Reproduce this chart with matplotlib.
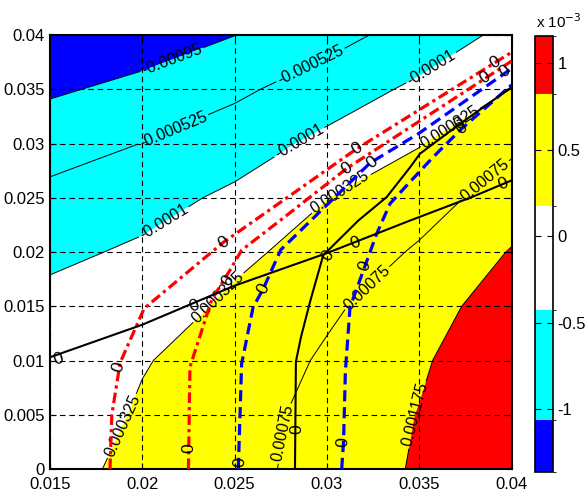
import numpy as np
import matplotlib
matplotlib.use("Agg")
import matplotlib.pyplot as plt
from matplotlib.colors import ListedColormap, BoundaryNorm
import matplotlib.colorbar as mcolorbar

plt.rcParams['font.family'] = ['Liberation Sans', 'DejaVu Sans']

# ---- field on a coarse grid (x 1e-3) ----
x_grid = [0.015, 0.02, 0.025, 0.03, 0.035, 0.04]
y_grid = [0.0, 0.005, 0.01, 0.015, 0.02, 0.025, 0.03, 0.035, 0.04]
z_rows = [
    [0.20, 0.42, 0.62, 0.90, 1.224, 1.55],
    [0.15, 0.358, 0.60, 0.87, 1.19, 1.52],
    [0.09, 0.308, 0.45, 0.816, 1.12, 1.50],
    [0.03, 0.12, 0.40, 0.672, 1.026, 1.35],
    [-0.195, -0.033, 0.24, 0.476, 0.80, 1.20],
    [-0.421, -0.253, -0.02, 0.319, 0.569, 0.947],
    [-0.691, -0.52, -0.294, 0.0, 0.305, 0.673],
    [-1.007, -0.842, -0.607, -0.314, -0.02, 0.33],
    [-1.36, -1.16, -0.955, -0.678, -0.345, 0.008],
]
levels = [-0.00095, -0.000525, -0.0001, 0.000325, 0.00075, 0.001175]
# colour below the first level, between levels, above the last level
fill_colors = ['#0000ff', '#00ffff', '#00ffff', '#ffffff', '#ffff00', '#ffff00', '#ff0000']

# colorbar (units of 1e-3)
cbar_bounds = [-1.362, -1.064, -0.423, 0.175, 0.821, 1.157]
cbar_colors = ['#0000ff', '#00ffff', '#ffffff', '#ffff00', '#ff0000']
cbar_ticks = [-1, -0.5, 0, 0.5, 1]

# ---- zero lines drawn on top ----
red_a = [(0.01825, 0.0), (0.01835, 0.005), (0.0188, 0.0098), (0.0201, 0.0148),
         (0.0239, 0.0202), (0.0244, 0.0209), (0.0316, 0.0295), (0.0399, 0.0383), (0.04, 0.0384)]
red_b = [(0.0225, 0.0), (0.02258, 0.0094), (0.02376, 0.0156), (0.02475, 0.01833),
         (0.02538, 0.02017), (0.02746, 0.0229), (0.03107, 0.0277), (0.03866, 0.0361), (0.04, 0.0376)]
blue_c = [(0.0252, 0.0), (0.02538, 0.0097), (0.0260, 0.0149), (0.02656, 0.01664),
          (0.0275, 0.0202), (0.03233, 0.0282), (0.03495, 0.0309), (0.03974, 0.0366), (0.04, 0.0369)]
blue_d = [(0.0308, 0.0), (0.0309, 0.0025), (0.0310, 0.009), (0.03125, 0.0149), (0.03206, 0.0187),
          (0.0327, 0.0217), (0.03342, 0.02446), (0.0345, 0.02646), (0.03576, 0.02876),
          (0.0373, 0.03137), (0.04, 0.0354)]
black_e = [(0.015, 0.0103), (0.02, 0.0133), (0.025, 0.0169), (0.03, 0.0199),
           (0.0345, 0.0229), (0.0379, 0.0251), (0.04, 0.0266)]
black_f = [(0.02827, 0.0), (0.02832, 0.0099), (0.0286, 0.0122), (0.0291, 0.0155),
           (0.0298, 0.0197), (0.0317, 0.0229), (0.03324, 0.02507), (0.0345, 0.0278),
           (0.03504, 0.02906), (0.0372, 0.0318), (0.04, 0.0352)]

# where the "0" labels sit on each line
red_a_labels = [(0.0187, 0.0094), (0.0244, 0.0209), (0.0316, 0.0295), (0.0391, 0.0375)]
red_b_labels = [(0.0225, 0.0019), (0.02466, 0.0174), (0.03107, 0.0277), (0.03857, 0.0361)]
blue_c_labels = [(0.0253, 0.0006), (0.02656, 0.01664), (0.03243, 0.0283), (0.03965, 0.0366)]
blue_d_labels = [(0.0309, 0.0025), (0.03206, 0.0187), (0.0373, 0.0314)]
black_e_labels = [(0.01545, 0.0101), (0.0228, 0.0150), (0.03152, 0.0208), (0.03955, 0.0263)]
black_f_labels = [(0.02836, 0.0037), (0.03008, 0.0197), (0.0372, 0.0318)]

# spots for the contour level labels
clabel_spots = [(0.02168, 0.0374), (0.02168, 0.03128), (0.0292, 0.0369),
                (0.02105, 0.02308), (0.02845, 0.0303), (0.03571, 0.0368),
                (0.0188, 0.00405), (0.02416, 0.01572), (0.03099, 0.02468), (0.03638, 0.0323),
                (0.02768, 0.00329), (0.0322, 0.01664), (0.03857, 0.0266),
                (0.03486, 0.00497)]


def label_angle(ax, pts, p):
    """Screen angle of the polyline near point p."""
    pts = np.asarray(pts)
    d = np.hypot(pts[:, 0] - p[0], (pts[:, 1] - p[1]))
    i = int(np.argmin(d))
    i0, i1 = max(i - 1, 0), min(i + 1, len(pts) - 1)
    a = ax.transData.transform(pts[i0])
    b = ax.transData.transform(pts[i1])
    ang = np.degrees(np.arctan2(b[1] - a[1], b[0] - a[0]))
    if ang > 90:
        ang -= 180
    if ang < -90:
        ang += 180
    return ang


fig = plt.figure(figsize=(5.88, 4.96), dpi=100)
ax = fig.add_axes([0.085, 0.0544, 0.785, 0.875])

X, Y = np.meshgrid(x_grid, y_grid)
Z = np.array(z_rows) * 1e-3

ax.contourf(X, Y, Z, levels=levels, colors=fill_colors, extend='both', antialiased=True)
cs = ax.contour(X, Y, Z, levels=levels, colors='k', linewidths=0.7,
                negative_linestyles='solid')

ax.set_xlim(0.015, 0.04)
ax.set_ylim(0, 0.04)
ax.set_xticks([0.015, 0.02, 0.025, 0.03, 0.035, 0.04])
ax.set_xticklabels(['0.015', '0.02', '0.025', '0.03', '0.035', '0.04'])
ax.set_yticks([0, 0.005, 0.01, 0.015, 0.02, 0.025, 0.03, 0.035, 0.04])
ax.set_yticklabels(['0', '0.005', '0.01', '0.015', '0.02', '0.025', '0.03', '0.035', '0.04'])
ax.tick_params(direction='in', length=4, labelsize=12, top=True, right=True)
ax.tick_params(axis='x', pad=6)
ax.set_axisbelow(False)
ax.grid(True, color='k', linestyle=(0, (5, 3.5)), linewidth=0.8)
for s in ax.spines.values():
    s.set_linewidth(1.5)

ax.clabel(cs, fmt=lambda v: f"{v:g}", fontsize=11.5, inline=True,
          inline_spacing=2, manual=clabel_spots)

curves = [
    (red_a, red_a_labels, 'red', (0, (3.3, 1.3, 1.0, 1.3)), 2.3),
    (red_b, red_b_labels, 'red', (0, (3.3, 1.3, 1.0, 1.3)), 2.3),
    (blue_c, blue_c_labels, '#0000ff', (0, (3.5, 1.8)), 2.3),
    (blue_d, blue_d_labels, '#0000ff', (0, (3.5, 1.8)), 2.3),
    (black_e, black_e_labels, 'k', '-', 1.5),
    (black_f, black_f_labels, 'k', '-', 1.5),
]
for pts, labs, col, ls, lw in curves:
    xs, ys = zip(*pts)
    ax.plot(xs, ys, color=col, linestyle=ls, linewidth=lw, zorder=4, clip_on=True)

fig.canvas.draw()
for pts, labs, col, ls, lw in curves:
    for p in labs:
        ang = label_angle(ax, pts, p)
        ax.text(p[0], p[1], '0', rotation=ang, rotation_mode='anchor',
                ha='center', va='center', fontsize=12.5, zorder=6)

# colorbar
cax = fig.add_axes([0.910, 0.0484, 0.030, 0.8786])
cb = mcolorbar.ColorbarBase(cax, cmap=ListedColormap(cbar_colors),
                            norm=BoundaryNorm(cbar_bounds, len(cbar_colors)),
                            boundaries=cbar_bounds, ticks=cbar_ticks,
                            spacing='proportional')
cb.ax.set_yticklabels([f"{t:g}" for t in cbar_ticks])
cb.outline.set_linewidth(1.2)
cax.tick_params(axis='y', direction='in', left=True, right=True, length=4, labelsize=12)
fig.text(0.912, 0.957, r'x 10$^{-3}$', fontsize=11, ha='left', va='center')

fig.savefig("out.png", dpi=100)
